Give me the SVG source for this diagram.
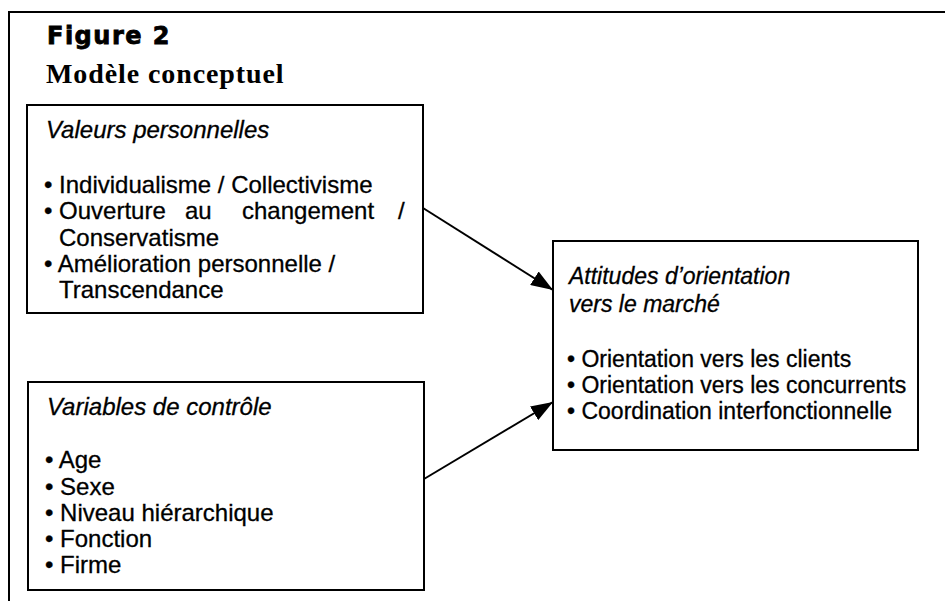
<svg xmlns="http://www.w3.org/2000/svg" width="945" height="601" viewBox="0 0 945 601">
<style>
.frame{fill:none;stroke:#000;stroke-width:2}
.box{fill:#fff;stroke:#000;stroke-width:2}
.t{font-family:"Liberation Sans",Arial,sans-serif;font-size:24px;fill:#000;stroke:#000;stroke-width:0.3}
.s{font-size:23px}
.i{font-style:italic}
.fig{font-family:"DejaVu Sans","Liberation Sans",sans-serif;font-weight:900;font-size:24px;letter-spacing:1.5px;fill:#000;stroke:#000;stroke-width:0.8}
.ttl{font-family:"Liberation Serif","Times New Roman",serif;font-weight:bold;font-size:28px;letter-spacing:0.9px;fill:#000}
.conn{fill:none;stroke:#000;stroke-width:2}
</style>
<defs>
<marker id="ah" markerUnits="userSpaceOnUse" markerWidth="24" markerHeight="16" refX="22" refY="8" orient="auto">
<path d="M0,0 L22,8 L0,16 Z" fill="#000"/>
</marker>
</defs>
<rect width="945" height="601" fill="#fff"/>
<path class="frame" d="M9,601 V12 H945"/>
<g id="title">
<text class="fig" x="47" y="44">Figure 2</text>
<text class="ttl" x="46" y="83">Modèle conceptuel</text>
</g>
<g id="valeurs">
<rect class="box" x="27" y="105" width="396" height="208"/>
<text class="t i" x="46" y="138">Valeurs personnelles</text>
<text class="t" x="44" y="192.5">• Individualisme / Collectivisme</text>
<text class="t" y="219"><tspan x="44">• Ouverture</tspan><tspan x="185">au</tspan><tspan x="242">changement</tspan><tspan x="398">/</tspan></text>
<text class="t" x="59" y="246">Conservatisme</text>
<text class="t" x="44" y="272">• Amélioration personnelle /</text>
<text class="t" x="59" y="298">Transcendance</text>
</g>
<g id="controle">
<rect class="box" x="28" y="382" width="396" height="208"/>
<text class="t i" x="47" y="415">Variables de contrôle</text>
<text class="t" x="45" y="468">• Age</text>
<text class="t" x="45" y="494.5">• Sexe</text>
<text class="t" x="45" y="521">• Niveau hiérarchique</text>
<text class="t" x="45" y="547">• Fonction</text>
<text class="t" x="45" y="573">• Firme</text>
</g>
<g id="attitudes">
<rect class="box" x="553" y="241" width="365" height="209"/>
<text class="t s i" x="569" y="284">Attitudes d’orientation</text>
<text class="t s i" x="569" y="312">vers le marché</text>
<text class="t s" x="567" y="367">• Orientation vers les clients</text>
<text class="t s" x="567" y="393">• Orientation vers les concurrents</text>
<text class="t s" x="567" y="419">• Coordination interfonctionnelle</text>
</g>
<g id="connectors">
<line class="conn" x1="423" y1="208" x2="553" y2="290" marker-end="url(#ah)"/>
<line class="conn" x1="424" y1="479" x2="553" y2="402" marker-end="url(#ah)"/>
</g>
</svg>
